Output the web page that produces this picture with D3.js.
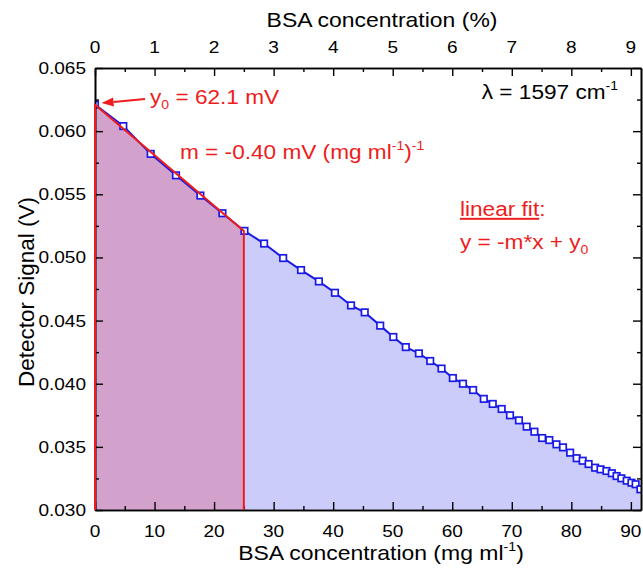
<!DOCTYPE html>
<html><head><meta charset="utf-8">
<script src="https://cdn.jsdelivr.net/npm/d3@7"></script>
<style>
html,body{margin:0;padding:0;background:#fff;}
svg{display:block;font-family:"Liberation Sans",Arial,sans-serif;}
</style></head>
<body><svg id="c" width="643" height="571"></svg>
<script>
// ---------- data ----------
const concentration = [0, 4.75, 9.35, 13.6, 17.7, 21.4, 25.1, 28.4, 31.6, 34.6, 37.6, 40.3, 43.0, 45.3, 47.9, 50.1,
  52.2, 54.4, 56.3, 58.2, 60.1, 61.8, 63.5, 65.3, 66.8, 68.3, 69.7, 71.2, 72.5, 73.8, 75.1, 76.3, 77.5, 78.6,
  79.8, 80.9, 81.9, 82.9, 84.0, 84.9, 85.9, 86.8, 87.6, 88.4, 89.3, 90.1, 90.8, 91.6];
const signal = [0.0621, 0.0604, 0.0582, 0.0565, 0.0549, 0.0535, 0.0521, 0.0511, 0.04995, 0.0490, 0.0481, 0.0472,
  0.0462, 0.04565, 0.0446, 0.0437, 0.0429, 0.0424, 0.0418, 0.0412, 0.04045, 0.0400, 0.0395, 0.0388, 0.0384,
  0.0380, 0.0375, 0.0371, 0.0366, 0.0362, 0.0357, 0.03554, 0.0352, 0.03496, 0.03454, 0.0341, 0.0339, 0.03364,
  0.03335, 0.03322, 0.03309, 0.03291, 0.03269, 0.03251, 0.03232, 0.03216, 0.03204, 0.03164];
const fitIntercept = 0.0621;     // V (y0 = 62.1 mV)
const fitSlope = -0.40e-3;       // V per mg/ml
const fitEnd = 25;               // mg/ml
const xTicksMajor = [0,10,20,30,40,50,60,70,80,90];
const xTicksMinor = [5,15,25,35,45,55,65,75,85];
const topTicksMajor = [0,1,2,3,4,5,6,7,8,9];
const topTicksMinor = [0.5,1.5,2.5,3.5,4.5,5.5,6.5,7.5,8.5];
const yTicksMajor = [0.030,0.035,0.040,0.045,0.050,0.055,0.060,0.065];
const yTicksMinor = [0.0325,0.0375,0.0425,0.0475,0.0525,0.0575,0.0625];
const xDomain = [0, 91.7];
const yDomain = [0.030, 0.065];

// ---------- layout ----------
const L=95, R=641, T=68, B=510;
const svg = d3.select("#c");
const x = d3.scaleLinear().domain(xDomain).range([L,R]);
const xTop = d3.scaleLinear().domain([xDomain[0]/10, xDomain[1]/10]).range([L,R]);
const y = d3.scaleLinear().domain(yDomain).range([B,T]);

const RED="#ee1c1c", BLUE="#1a1ae6", BLUEFILL="#ccccfb", PURPLE="#d3a2cc";

svg.append("defs").append("clipPath").attr("id","clip")
  .append("rect").attr("x",L).attr("y",T).attr("width",R-L).attr("height",B-T);

const pts = concentration.map((c,i)=>({c, s: signal[i]}));
const plot = svg.append("g").attr("clip-path","url(#clip)");

// blue area
plot.append("path").datum(pts)
  .attr("fill",BLUEFILL)
  .attr("d", d3.area().x(d=>x(d.c)).y0(y(yDomain[0])).y1(d=>y(d.s)));

// fit area (purple)
const fitPts = [0, fitEnd].map(c=>({c, s: fitIntercept + fitSlope*c}));
plot.append("path").datum(fitPts)
  .attr("fill",PURPLE)
  .attr("d", d3.area().x(d=>x(d.c)).y0(y(yDomain[0])).y1(d=>y(d.s)));

// data line
plot.append("path").datum(pts)
  .attr("fill","none").attr("stroke",BLUE).attr("stroke-width",2)
  .attr("d", d3.line().x(d=>x(d.c)).y(d=>y(d.s)));

// markers
const ms = 6.5;
plot.selectAll("rect.m").data(pts).join("rect").attr("class","m")
  .attr("x",d=>x(d.c)-ms/2).attr("y",d=>y(d.s)-ms/2)
  .attr("width",ms).attr("height",ms)
  .attr("fill","#fff").attr("stroke",BLUE).attr("stroke-width",1.7);

// ---------- axes ----------
function axisLines(gen, sel, size) {
  sel.call(gen.tickSizeInner(size).tickSizeOuter(0).tickFormat(""));
  sel.selectAll(".domain").attr("stroke","#000").attr("stroke-width",1.6);
  sel.selectAll(".tick line").attr("stroke","#000").attr("stroke-width",1.4);
}
const gB = svg.append("g").attr("transform",`translate(0,${B})`);
axisLines(d3.axisBottom(x).tickValues(xTicksMajor), gB.append("g"), -8);
axisLines(d3.axisBottom(x).tickValues(xTicksMinor), gB.append("g"), -4);
const gT = svg.append("g").attr("transform",`translate(0,${T})`);
axisLines(d3.axisTop(xTop).tickValues(topTicksMajor), gT.append("g"), -8);
axisLines(d3.axisTop(xTop).tickValues(topTicksMinor), gT.append("g"), -4);
const gL = svg.append("g").attr("transform",`translate(${L},0)`);
axisLines(d3.axisLeft(y).tickValues(yTicksMajor), gL.append("g"), -8);
axisLines(d3.axisLeft(y).tickValues(yTicksMinor), gL.append("g"), -4);
const gR = svg.append("g").attr("transform",`translate(${R},0)`);
axisLines(d3.axisRight(y).tickValues(yTicksMajor), gR.append("g"), -8);
axisLines(d3.axisRight(y).tickValues(yTicksMinor), gR.append("g"), -4);

// ---------- fit outline (red) ----------
svg.append("path")
  .attr("fill","none").attr("stroke",RED).attr("stroke-width",2)
  .attr("d", d3.line()([[x(0),y(yDomain[0])],[x(0),y(fitPts[0].s)],[x(fitEnd),y(fitPts[1].s)],[x(fitEnd),y(yDomain[0])]]));

// ---------- text helper ----------
function rich(xp, yp, parts, size, color, anchor, sx, rot) {
  const g = svg.append("g").attr("transform", rot ? `translate(${xp},${yp}) rotate(-90) scale(${sx},1)` : `translate(${xp},${yp}) scale(${sx},1)`);
  const t = g.append("text").attr("x",0).attr("y",0).attr("font-size",size)
    .attr("fill",color).attr("text-anchor",anchor||"start");
  let shift = 0;
  parts.forEach(p=>{
    const [txt, kind] = Array.isArray(p) ? p : [p, "n"];
    let target = 0;
    if (kind==="sup") target = -0.42*size;
    if (kind==="sub") target = 0.28*size;
    const ts = t.append("tspan").text(txt).attr("dy", target - shift);
    shift = target;
    if (kind==="sup"||kind==="sub") ts.attr("font-size", size*0.62);
    if (kind==="u") ts.attr("text-decoration","underline");
  });
  return t;
}

// tick labels
const tickSize = 17.3, tickSX = 1.1;
xTicksMajor.forEach(v=>rich(x(v), 536.5, [String(v)], tickSize, "#000", "middle", tickSX));
topTicksMajor.forEach(v=>rich(xTop(v), 52.5, [String(v)], tickSize, "#000", "middle", tickSX));
yTicksMajor.forEach(v=>rich(86, y(v)+6, [d3.format(".3f")(v)], tickSize, "#000", "end", tickSX));

// axis titles
rich(381, 560, ["BSA concentration (mg ml", ["-1","sup"], ")"], 20.5, "#000", "middle", 1.12);
rich(382, 27, ["BSA concentration (%)"], 20.5, "#000", "middle", 1.12);
rich(34, 292, ["Detector Signal (V)"], 22.5, "#000", "middle", 1, true);

// annotations
const annSize = 19.5, annSX = 1.16;
rich(150, 104, ["y", ["0","sub"], " = 62.1 mV"], annSize, RED, "start", annSX);
rich(180, 158.5, ["m = -0.40 mV (mg ml", ["-1","sup"], ")", ["-1","sup"]], annSize, RED, "start", annSX);
rich(618, 98.5, ["\u03bb = 1597 cm", ["-1","sup"]], annSize, "#000", "end", annSX);
rich(460, 216, [["linear fit","u"], ":"], annSize, RED, "start", annSX);
rich(460, 248.5, ["y = -m*x + y", ["0","sub"]], annSize, RED, "start", annSX);

// arrow to y0
const tail = [x(8.4), y(0.06254)], tip = [x(1.1), y(0.06223)];
const ang = Math.atan2(tip[1]-tail[1], tip[0]-tail[0]);
const hl = 12, hw = 4.5;
const base = [tip[0]-hl*Math.cos(ang), tip[1]-hl*Math.sin(ang)];
svg.append("line").attr("x1",tail[0]).attr("y1",tail[1]).attr("x2",base[0]).attr("y2",base[1])
  .attr("stroke",RED).attr("stroke-width",2);
svg.append("path").attr("fill",RED)
  .attr("d", d3.line()([tip,
    [base[0]+hw*Math.sin(ang), base[1]-hw*Math.cos(ang)],
    [base[0]-hw*Math.sin(ang), base[1]+hw*Math.cos(ang)]]) + "Z");
</script></body></html>
